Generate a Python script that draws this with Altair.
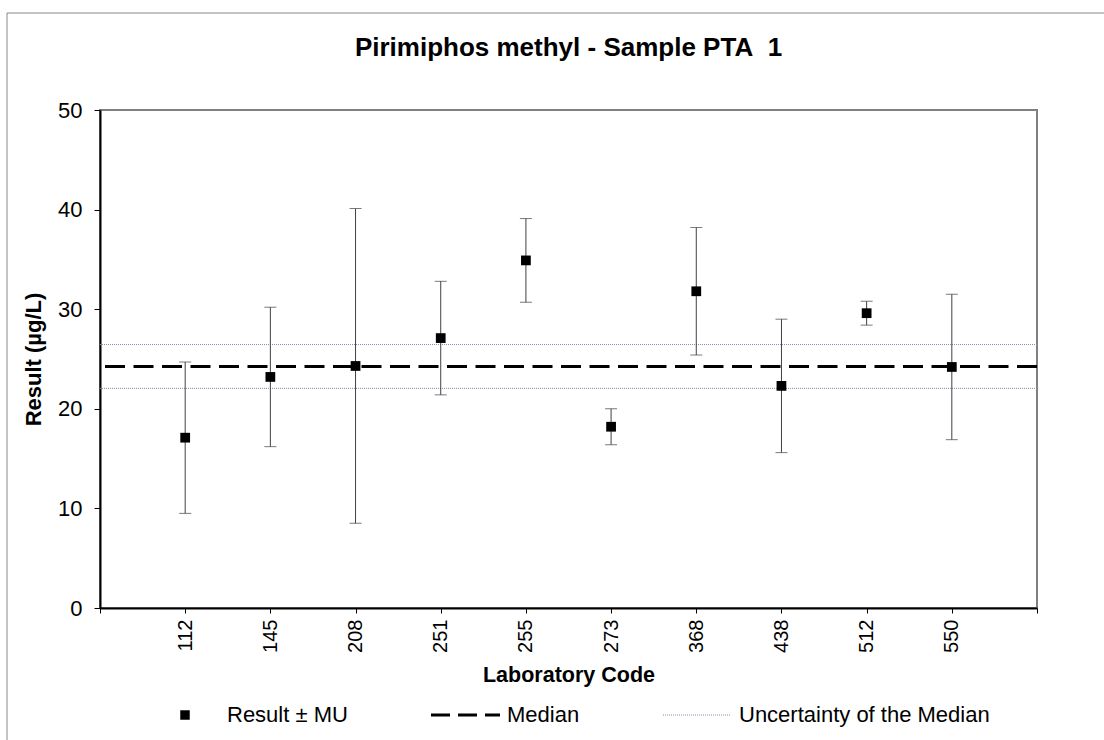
import altair as alt
import pandas as pd

# ---- data ----
codes = ["112", "145", "208", "251", "255", "273", "368", "438", "512", "550"]
results = [17.1, 23.2, 24.3, 27.1, 34.9, 18.2, 31.8, 22.3, 29.6, 24.2]
mu = [7.6, 7.0, 15.8, 5.7, 4.2, 1.8, 6.4, 6.7, 1.2, 7.3]
median_value = 24.25
median_uncertainty = 2.2

y_ticks = [0, 10, 20, 30, 40, 50]

FONT = "Liberation Sans"

df = pd.DataFrame({
    "idx": list(range(1, len(codes) + 1)),
    "code": codes,
    "result": results,
    "mu": mu,
})
median_df = pd.DataFrame({"v": [median_value]})
unc_df = pd.DataFrame({"v": [median_value - median_uncertainty, median_value + median_uncertainty]})
one = pd.DataFrame({"a": [0]})

label_arr = ["''"] + [f"'{c}'" for c in codes] + ["''"]
label_expr = "[" + ",".join(label_arr) + "][datum.value]"

x_enc = alt.X(
    "idx:Q",
    scale=alt.Scale(domain=[0, len(codes) + 1], nice=False, zero=False),
    axis=alt.Axis(
        values=list(range(len(codes) + 2)),
        labelExpr=label_expr,
        labelAngle=-90,
        labelAlign="right",
        labelBaseline="middle",
        labelFont=FONT,
        labelFontSize=20,
        labelColor="black",
        labelPadding=6,
        tickSize=5,
        tickColor="black",
        domainColor="black",
        domainWidth=2,
        grid=False,
        title="Laboratory Code",
        titleFont=FONT,
        titleFontSize=21.5,
        titleFontWeight="bold",
        titleColor="black",
        titlePadding=12,
    ),
)

y_scale = alt.Scale(domain=[0, 50], nice=False)
y_axis = alt.Axis(
    values=y_ticks,
    labelFont=FONT,
    labelFontSize=22,
    labelColor="black",
    labelPadding=12,
    tickSize=6,
    tickColor="black",
    domainColor="black",
    domainWidth=2,
    grid=False,
    title="Result (µg/L)",
    titleFont=FONT,
    titleFontSize=22,
    titleFontWeight="bold",
    titleColor="black",
    titlePadding=12,
)

base = alt.Chart(df).transform_calculate(
    lo="datum.result - datum.mu", hi="datum.result + datum.mu"
)

err = base.mark_rule(color="#404040", strokeWidth=1).encode(
    x=x_enc,
    y=alt.Y("lo:Q", scale=y_scale, axis=y_axis),
    y2="hi:Q",
)
cap_lo = base.mark_tick(orient="horizontal", size=12, thickness=1, color="#404040").encode(
    x="idx:Q", y="lo:Q"
)
cap_hi = base.mark_tick(orient="horizontal", size=12, thickness=1, color="#404040").encode(
    x="idx:Q", y="hi:Q"
)

unc = alt.Chart(unc_df).mark_rule(color="#7f8ea8", strokeWidth=1, strokeDash=[1, 1]).encode(
    y="v:Q"
)
med = alt.Chart(median_df).mark_rule(color="black", strokeWidth=3, strokeDash=[20, 8.5]).encode(
    y="v:Q"
)

pts = base.mark_square(size=95, color="black", opacity=1).encode(
    x="idx:Q", y="result:Q"
)

# ---- manual legend below the plot ----
leg_y = 605
leg_sq = alt.Chart(one).mark_square(size=90, color="black", opacity=1).encode(
    x=alt.value(85), y=alt.value(leg_y)
)
leg_t1 = alt.Chart(one).mark_text(
    text="Result ± MU", font=FONT, fontSize=22, align="left", baseline="middle", color="black"
).encode(x=alt.value(127), y=alt.value(leg_y))
leg_med = alt.Chart(one).mark_rule(color="black", strokeWidth=3, strokeDash=[19, 8]).encode(
    x=alt.value(331), x2=alt.value(400), y=alt.value(leg_y)
)
leg_t2 = alt.Chart(one).mark_text(
    text="Median", font=FONT, fontSize=22, align="left", baseline="middle", color="black"
).encode(x=alt.value(407), y=alt.value(leg_y))
leg_unc = alt.Chart(one).mark_rule(color="#7f8ea8", strokeWidth=1, strokeDash=[1, 1]).encode(
    x=alt.value(563), x2=alt.value(630), y=alt.value(leg_y)
)
leg_t3 = alt.Chart(one).mark_text(
    text="Uncertainty of the Median", font=FONT, fontSize=22, align="left", baseline="middle", color="black"
).encode(x=alt.value(639), y=alt.value(leg_y))

# ---- outer chart frame ----
frame_top = alt.Chart(one).mark_rule(color="#888888", strokeWidth=1).encode(
    x=alt.value(-93), x2=alt.value(1004), y=alt.value(-97)
)
frame_left = alt.Chart(one).mark_rule(color="#888888", strokeWidth=1).encode(
    x=alt.value(-93), y=alt.value(-97), y2=alt.value(630)
)

chart = alt.layer(
    frame_top, frame_left, unc, err, cap_lo, cap_hi, med, pts,
    leg_sq, leg_t1, leg_med, leg_t2, leg_unc, leg_t3,
).properties(
    width=937,
    height=498,
    padding={"left": 100, "top": 110, "right": 67, "bottom": 132},
    autosize=alt.AutoSizeParams(type="none"),
    background="white",
    title=alt.TitleParams(
        text="Pirimiphos methyl - Sample PTA\u00a0 1",
        font=FONT,
        fontSize=26,
        fontWeight="bold",
        color="black",
        anchor="middle",
        offset=-48,
    ),
).configure_view(
    stroke="#808080", strokeWidth=2
)

chart.save("out.html", embed_options={"renderer": "svg", "actions": False})
